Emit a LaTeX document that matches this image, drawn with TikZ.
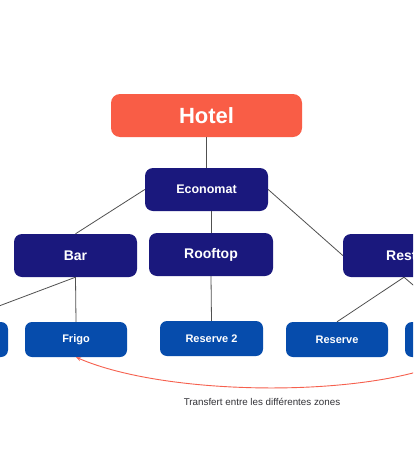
\documentclass[tikz,border=0pt]{standalone}
\usepackage{fontspec}
\setmainfont{Liberation Sans}
\usetikzlibrary{arrows.meta}
\definecolor{hotelred}{RGB}{249,93,70}
\definecolor{navy}{RGB}{26,24,125}
\definecolor{midblue}{RGB}{6,76,172}
\definecolor{linegray}{RGB}{80,80,80}
\definecolor{arrowred}{RGB}{246,96,78}
\definecolor{labelgray}{RGB}{50,50,55}
\tikzset{
  bigbox/.style={rectangle, rounded corners=8pt, fill=navy, text=white, font=\bfseries\fontsize{14}{16}\selectfont, minimum width=123pt, minimum height=43pt, inner sep=0pt},
  smallbox/.style={rectangle, rounded corners=7pt, fill=midblue, text=white, font=\bfseries\fontsize{11}{13}\selectfont, minimum width=102pt, minimum height=35pt, inner sep=0pt},
  conn/.style={draw=linegray, line width=0.8pt},
}
\begin{document}
\begin{tikzpicture}[x=1pt,y=-1pt]
\useasboundingbox (0,0) rectangle (413,455);
\clip (0,0) rectangle (413,455);
\fill[white] (0,0) rectangle (413,455);
\node[rectangle, rounded corners=9pt, fill=hotelred, text=white, font=\bfseries\fontsize{22}{24}\selectfont, minimum width=191pt, minimum height=43pt, inner sep=0pt] (hotel) at (206.5,115.5) {Hotel};
\node[bigbox, font=\bfseries\fontsize{12.5}{14}\selectfont] (eco) at (206.5,189.5) {Economat};
\node[bigbox] (bar) at (75.5,255.5) {Bar};
\node[bigbox, minimum width=124pt] (roof) at (211,254.5) {Rooftop};
\node[bigbox, minimum width=122pt] (rest) at (404,255.5) {};
\node[anchor=west, inner sep=0pt, text=white, font=\bfseries\fontsize{14}{16}\selectfont] (restlabel) at (386,255.5) {Restaurant};
\node[smallbox] (left) at (-43,339.5) {};
\node[smallbox] (frigo) at (76,339.5) {Frigo};
\node[smallbox, minimum width=103pt] (res2) at (211.5,338.5) {Reserve 2};
\node[smallbox] (res) at (337,339.5) {Reserve};
\node[smallbox] (right) at (456,339.5) {};
\draw[conn] (hotel.south) -- (eco.north);
\draw[conn] (eco.west) -- (bar.north);
\draw[conn] (roof.north) -- (eco.south -| roof.north);
\draw[conn] (eco.east) -- (rest.west);
\draw[conn] (bar.south) -- (frigo.north);
\draw[conn] (bar.south) -- (left.north);
\draw[conn] (roof.south) -- (res2.north);
\draw[conn] (rest.south) -- (res.north);
\draw[conn] (rest.south) -- (right.north);
\draw[draw=arrowred, line width=0.9pt, -{Stealth[length=5pt,width=4pt]}] (right.south) .. controls (380,398) and (170,398) .. (frigo.south);
\node[text=labelgray, font=\fontsize{9.8}{12}\selectfont, inner sep=0pt] (transfer) at (262,402) {Transfert entre les différentes zones};
\end{tikzpicture}
\end{document}
